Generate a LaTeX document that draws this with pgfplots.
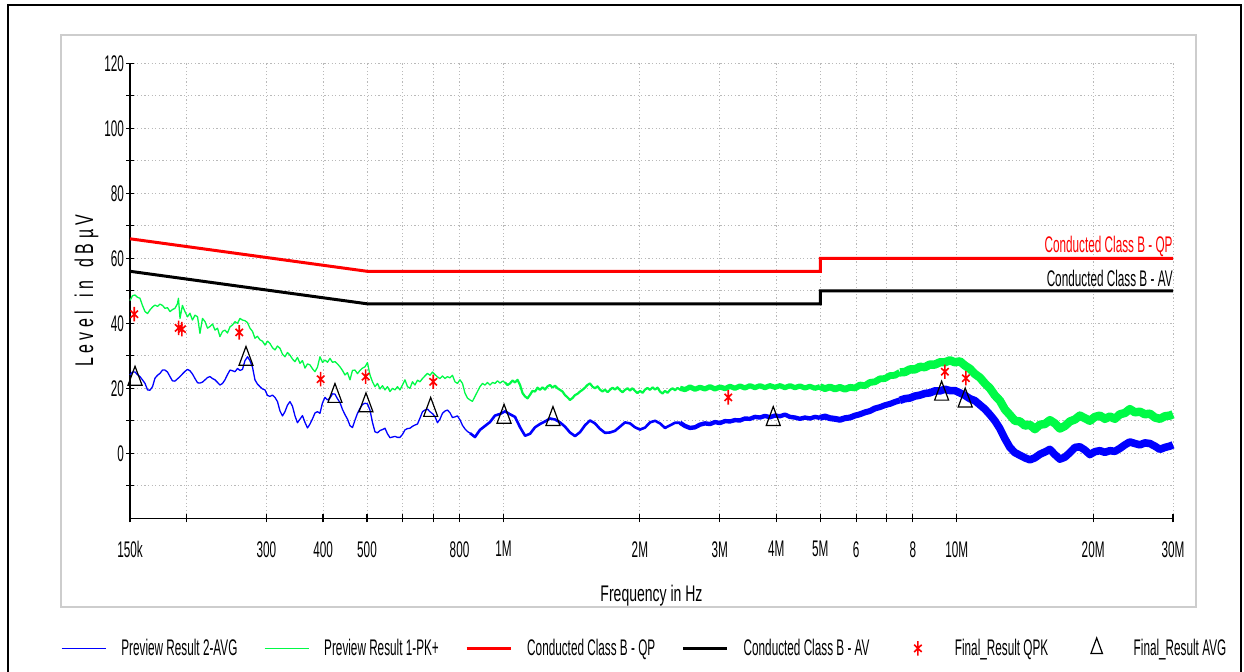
\documentclass[border=0pt]{standalone}
\usepackage{fontspec}
\setmainfont{Liberation Sans}[FakeStretch=0.52]
\newfontfamily\xlabfont{Liberation Sans}[FakeStretch=0.62]
\newfontfamily\ylabfont{Liberation Sans}
\usepackage{graphicx}
\usepackage{pgfplots}
\pgfplotsset{compat=1.18}
\definecolor{avgblue}{RGB}{0,0,255}
\definecolor{pkgreen}{RGB}{0,250,70}
\definecolor{limred}{RGB}{255,0,0}
\definecolor{panelgray}{RGB}{205,205,205}
\definecolor{gridgray}{RGB}{185,185,185}
\pgfplotsset{
  linelegend/.style={legend image code/.code={\draw[##1] (0pt,0pt) -- (22pt,0pt);}},
  bluelegend/.style={legend image code/.code={\draw[draw=avgblue, line width=0.7pt] (0pt,0pt) -- (22pt,0pt);}},
  greenlegend/.style={legend image code/.code={\draw[draw=pkgreen, line width=0.7pt] (0pt,0pt) -- (22pt,0pt);}},
  asterisklegend/.style={legend image code/.code={\path[draw=none,fill=none] (0pt,-1pt) rectangle (22pt,1pt);
     \draw[draw=limred, line width=0.8pt] plot[only marks, mark=asterisk, mark size=3.6pt, mark options={xscale=0.6}] coordinates {(11pt,0pt)};}},
  trianglelegend/.style={legend image code/.code={\path[draw=none,fill=none] (0pt,-1pt) rectangle (22pt,1pt);
     \draw[draw=black, line width=0.6pt, fill=white] plot[only marks, mark=triangle, mark size=5.2pt, mark options={xscale=0.64}] coordinates {(11pt,0pt)};}},
}
\begin{document}
\begin{tikzpicture}
\useasboundingbox (0,0) rectangle (622pt,336pt);
\draw[line width=1.2pt] (4pt,-2pt) -- (4pt,333.5pt) -- (620.5pt,333.5pt) -- (620.5pt,-2pt);
\draw[panelgray, line width=1.2pt] (30.5pt,32.5pt) rectangle (598pt,318.5pt);
\begin{axis}[
  at={(65pt,76.85pt)}, anchor=south west,
  scale only axis, width=521.5pt, height=227.5pt,
  xmode=log, xmin=0.15, xmax=30, ymin=-20, ymax=120,
  axis lines=left, axis line style={-, line width=0.7pt},
  xtick={0.15,0.2,0.3,0.4,0.5,0.6,0.7,0.8,1,2,3,4,5,6,7,8,10,20,30},
  xticklabels={150k,,300,400,500,,,800,1M,2M,3M,4M,5M,6,,8,10M,20M,30M},
  minor x tick num=0,
  ytick={0,20,40,60,80,100,120},
  yticklabels={0,20,40,60,80,100,120},
  minor ytick={-10,10,30,50,70,90,110},
  xmajorgrids, ymajorgrids, yminorgrids,
  major grid style={dash pattern=on 0.6pt off 1.2pt, color=gridgray, line width=0.5pt},
  minor grid style={dash pattern=on 0.6pt off 1.2pt, color=gridgray, line width=0.5pt},
  tick align=center, major tick length=4pt, minor tick length=4pt,
  every tick/.style={black, line width=0.6pt},
  every tick label/.append style={font=\fontsize{11.3}{13}\selectfont},
  xticklabel style={yshift=-6pt},
  yticklabel style={xshift=2.5pt},
  clip=false,
  linelegend,
  legend style={at={(-0.06616,-0.2851)}, anchor=west, draw=none, fill=none,
    inner sep=0pt, outer sep=0pt, legend columns=6,
    font=\fontsize{11.3}{13}\selectfont,
    nodes={inner sep=0pt},
    /tikz/every odd column/.append style={column sep=7.5pt},
    /tikz/every even column/.append style={column sep=13.2pt}},
  legend cell align=left,
]
% ---------- Preview Result 2-AVG (blue) ----------
\addplot[avgblue, line width=0.65pt, line join=round, bluelegend] coordinates {
(0.1500,24.1)(0.1519,25.0)(0.1539,25.0)(0.1558,24.2)(0.1578,23.6)(0.1598,22.6)(0.1619,21.5)(0.1640,19.5)(0.1660,19.4)(0.1682,20.5)
(0.1703,23.1)(0.1725,24.0)(0.1747,24.6)(0.1769,25.6)(0.1792,25.6)(0.1815,25.0)(0.1838,23.6)(0.1861,22.3)(0.1885,22.2)(0.1909,22.9)
(0.1934,23.6)(0.1958,24.4)(0.1983,25.2)(0.2009,25.8)(0.2034,25.4)(0.2060,24.4)(0.2087,23.0)(0.2114,21.7)(0.2140,21.6)(0.2168,21.9)
(0.2196,22.6)(0.2224,23.3)(0.2252,23.6)(0.2281,23.0)(0.2310,22.6)(0.2340,21.8)(0.2369,21.0)(0.2400,21.5)(0.2430,22.6)(0.2461,24.2)
(0.2493,25.6)(0.2525,25.4)(0.2557,25.1)(0.2590,26.1)(0.2623,25.5)(0.2656,25.8)(0.2690,28.5)(0.2725,29.7)(0.2759,28.5)(0.2795,26.5)
(0.2830,22.6)(0.2866,21.3)(0.2903,20.5)(0.2940,19.8)(0.2978,19.5)(0.3016,17.8)(0.3054,17.5)(0.3093,17.9)(0.3133,17.2)(0.3173,15.9)
(0.3214,13.0)(0.3255,11.5)(0.3296,12.8)(0.3338,14.8)(0.3381,15.9)(0.3424,14.5)(0.3468,11.5)(0.3512,9.4)(0.3557,10.5)(0.3603,11.6)
(0.3649,9.5)(0.3696,7.8)(0.3743,9.0)(0.3791,10.6)(0.3839,12.4)(0.3888,12.8)(0.3938,12.3)(0.3988,15.5)(0.4039,17.2)(0.4091,16.4)
(0.4143,17.0)(0.4196,18.3)(0.4249,18.2)(0.4303,16.8)(0.4359,15.6)(0.4414,13.5)(0.4471,11.9)(0.4528,10.5)(0.4586,8.5)(0.4644,7.9)
(0.4704,10.2)(0.4764,12.3)(0.4825,13.8)(0.4886,15.0)(0.4949,15.4)(0.5012,15.2)(0.5076,13.3)(0.5141,9.5)(0.5207,6.6)(0.5273,6.3)
(0.5341,7.0)(0.5409,7.3)(0.5478,7.7)(0.5548,6.0)(0.5619,4.8)(0.5691,5.0)(0.5763,5.2)(0.5837,4.9)(0.5912,4.9)(0.5987,5.8)
(0.6064,7.2)(0.6141,7.6)(0.6220,7.7)(0.6299,8.3)(0.6380,8.7)(0.6461,9.0)(0.6544,10.8)(0.6628,12.8)(0.6712,13.3)(0.6798,13.6)
(0.6885,12.8)(0.6973,12.2)(0.7062,11.3)(0.7152,9.4)(0.7244,10.5)(0.7336,12.3)(0.7430,13.0)(0.7525,13.3)(0.7621,12.5)(0.7718,11.0)
(0.7817,11.2)(0.7917,11.5)(0.8018,10.3)(0.8121,8.6)(0.8225,7.5)(0.8330,6.7)(0.8436,6.2)
};
\addlegendentry{Preview Result 2-AVG}
\addplot[avgblue, line width=1.3pt, line join=round, forget plot] coordinates {
(0.8436,6.2)(0.8653,5.0)(0.8876,7.2)(0.9104,8.4)(0.9338,9.6)(0.9578,11.6)(0.9827,12.1)(1.008,12.9)(1.034,12.0)(1.0605,11.2)
(1.088,8.0)(1.116,5.4)(1.1445,6.0)(1.174,8.0)(1.204,9.0)(1.235,9.8)(1.267,10.7)(1.2995,10.4)(1.333,9.5)(1.367,8.2)
(1.402,6.4)(1.4385,5.3)(1.4755,6.5)(1.513,8.6)(1.552,10.1)(1.592,9.2)(1.633,7.5)(1.675,6.3)(1.718,6.4)(1.7625,6.9)
(1.808,8.2)(1.854,9.5)(1.902,9.2)(1.951,8.0)(2.001,7.3)(2.053,7.9)(2.105,9.5)(2.160,10.0)(2.215,9.2)(2.272,7.8)
(2.331,8.6)(2.391,9.4)(2.452,9.4)
};
\addplot[avgblue, line width=2.2pt, line join=round, forget plot] coordinates {
(2.452,9.4)(2.515,8.4)(2.580,7.8)(2.646,8.0)(2.713,8.8)(2.783,9.2)(2.855,9.0)(2.928,9.6)(3.004,9.3)(3.081,9.9)
(3.160,9.8)(3.241,10.2)(3.325,10.1)(3.410,10.7)(3.498,10.6)(3.588,11.2)(3.680,11.0)(3.775,11.5)(3.872,11.1)(3.972,11.6)
(4.074,11.4)(4.179,11.9)(4.286,11.2)(4.396,11.0)(4.509,10.6)(4.625,11.0)(4.744,10.7)(4.866,11.2)(4.992,10.9)
};
\addplot[avgblue, line width=3.0pt, line join=round, forget plot] coordinates {
(4.992,10.9)(5.120,11.3)(5.252,10.8)(5.387,10.6)(5.525,10.3)(5.668,10.8)(5.813,11.0)(5.963,11.6)(6.116,12.0)(6.274,12.6)(6.435,13.0)(6.601,13.8)
(6.770,14.2)(6.945,14.8)(7.123,15.2)(7.306,15.8)(7.494,16.3)
};
\addplot[avgblue, line width=3.8pt, line join=round, forget plot] coordinates {
(7.494,16.3)(7.685,16.8)(7.883,17.0)(8.086,17.6)(8.294,17.9)(8.507,18.4)
(8.726,18.6)(8.950,19.2)(9.181,19.2)(9.417,19.7)(9.659,19.3)(9.908,19.3)(10.162,18.6)
(10.424,17.8)(10.692,16.8)(10.967,16.2)(11.249,14.9)(11.538,13.6)(11.835,11.9)(12.140,10.0)(12.452,7.6)(12.772,4.5)
(13.101,1.8)(13.438,0.2)(13.783,-0.6)(14.138,-1.4)(14.502,-2.0)(14.875,-1.4)(15.257,-0.3)(15.650,0.4)(16.052,1.2)(16.465,-0.4)
(16.889,-1.8)(17.323,-1.2)(17.769,0.2)(18.226,1.8)(18.695,2.0)(19.176,1.0)(19.669,-0.4)(20.175,0.5)(20.694,0.8)(21.226,0.3)
(21.772,0.8)(22.332,0.6)(22.907,1.5)(23.496,2.6)(24.100,3.5)(24.720,3.0)(25.356,2.6)(26.009,3.2)(26.678,3.0)(27.364,2.2)
(28.068,1.2)(28.790,1.8)(29.531,2.2)(30.0,2.6)
};
% ---------- Preview Result 1-PK+ (green) ----------
\addplot[pkgreen, line width=0.65pt, line join=round, greenlegend] coordinates {
(0.1500,47.0)(0.1519,48.5)(0.1539,48.7)(0.1558,48.0)(0.1578,47.7)(0.1598,45.5)(0.1619,43.6)(0.1640,43.0)(0.1660,44.1)(0.1682,45.0)
(0.1703,45.6)(0.1725,45.2)(0.1747,45.9)(0.1769,45.5)(0.1792,44.6)(0.1815,44.8)(0.1838,43.6)(0.1861,44.2)(0.1885,44.6)(0.1909,46.0)
(0.1919,47.7)(0.1934,41.5)(0.1958,45.5)(0.1983,43.6)(0.2009,42.0)(0.2034,43.1)(0.2060,41.0)(0.2087,42.5)(0.2114,42.0)(0.2140,36.9)
(0.2168,41.5)(0.2196,40.5)(0.2224,38.5)(0.2252,39.0)(0.2281,39.8)(0.2310,37.9)(0.2340,38.5)(0.2369,35.9)(0.2400,37.5)(0.2430,37.9)
(0.2461,37.0)(0.2493,38.9)(0.2525,39.5)(0.2557,40.5)(0.2590,40.0)(0.2623,41.5)(0.2656,41.0)(0.2690,40.8)(0.2725,40.2)(0.2759,38.5)
(0.2795,37.5)(0.2830,35.4)(0.2866,36.0)(0.2903,34.9)(0.2940,34.5)(0.2978,33.3)(0.3016,34.5)(0.3054,33.8)(0.3093,32.5)(0.3133,31.8)
(0.3173,33.0)(0.3214,32.3)(0.3255,30.5)(0.3296,29.7)(0.3338,31.0)(0.3381,30.2)(0.3424,29.0)(0.3468,28.2)(0.3512,29.5)(0.3557,27.7)
(0.3603,28.5)(0.3649,26.2)(0.3696,27.5)(0.3743,27.2)(0.3791,26.0)(0.3839,25.1)(0.3888,26.5)(0.3938,29.7)(0.3988,28.0)(0.4039,28.7)
(0.4091,28.0)(0.4143,29.2)(0.4196,28.0)(0.4249,28.2)(0.4303,27.5)(0.4359,26.6)(0.4414,25.5)(0.4471,24.1)(0.4528,24.8)(0.4586,22.6)
(0.4644,25.5)(0.4704,25.6)(0.4764,24.5)(0.4825,25.5)(0.4886,26.2)(0.4949,26.6)(0.5012,27.9)(0.5076,24.1)(0.5141,22.0)(0.5207,20.5)
(0.5273,21.5)(0.5341,19.8)(0.5409,20.8)(0.5478,19.5)(0.5548,20.5)(0.5619,19.0)(0.5691,20.0)(0.5763,19.5)(0.5837,20.5)(0.5912,19.5)
(0.5987,21.0)(0.6064,22.6)(0.6141,20.5)(0.6220,20.0)(0.6299,22.0)(0.6380,21.0)(0.6461,22.5)(0.6544,22.0)(0.6628,23.0)(0.6712,23.8)
(0.6798,24.6)(0.6885,24.0)(0.6973,25.0)(0.7062,24.2)(0.7152,23.5)(0.7244,23.0)(0.7336,23.8)(0.7430,23.0)(0.7525,23.6)(0.7621,23.2)
(0.7718,24.0)(0.7817,22.0)(0.7917,21.5)(0.8018,22.6)(0.8121,21.5)(0.8225,18.5)(0.8330,17.0)(0.8436,16.4)(0.8544,16.0)(0.8653,17.5)
(0.8764,19.0)(0.8876,20.5)(0.8989,21.5)(0.9104,21.0)(0.9220,21.8)(0.9338,21.0)(0.9458,21.8)(0.9578,21.5)(0.9701,22.3)(0.9827,21.6)
(0.9953,22.2)(1.0080,21.8)
};
\addlegendentry{Preview Result 1-PK+}
\addplot[pkgreen, line width=1.1pt, line join=round, forget plot] coordinates {
(1.008,21.8)(1.021,21.0)(1.034,21.5)(1.047,22.4)(1.0605,21.8)(1.074,22.6)(1.088,21.0)(1.102,18.5)(1.116,17.5)(1.130,16.9)
(1.1445,18.0)(1.159,19.2)(1.174,19.0)(1.189,20.2)(1.204,19.5)(1.219,20.3)(1.235,19.6)(1.251,20.6)(1.267,21.0)(1.283,20.2)
(1.2995,20.8)(1.316,20.0)(1.333,19.5)(1.350,19.0)(1.367,17.9)(1.385,17.2)(1.402,16.4)(1.420,17.0)(1.4385,17.9)(1.457,18.3)
(1.4755,19.0)(1.494,19.5)(1.513,20.2)(1.532,21.0)(1.552,21.5)(1.572,20.5)(1.592,20.0)(1.613,20.6)(1.633,19.6)(1.654,19.0)
(1.675,19.6)(1.697,18.8)(1.718,19.5)(1.740,20.2)(1.7625,19.6)(1.785,20.3)(1.808,19.4)(1.831,18.8)(1.854,19.5)(1.878,20.0)
(1.902,19.3)(1.926,20.0)(1.951,19.2)(1.976,18.5)(2.001,19.2)(2.027,18.6)(2.053,19.6)(2.079,20.1)(2.105,19.5)(2.132,20.3)
(2.160,19.6)(2.187,20.2)(2.215,19.0)(2.243,18.4)(2.272,19.2)(2.301,18.6)(2.331,19.5)(2.361,20.0)(2.391,19.4)(2.421,20.1)
(2.452,19.6)
};
\addplot[pkgreen, line width=2.6pt, line join=round, forget plot] coordinates {
(2.452,20.0)(2.515,19.6)(2.580,20.4)(2.646,19.7)(2.713,20.3)(2.783,19.8)(2.855,20.5)(2.928,19.8)(3.004,20.4)(3.081,19.9)
(3.160,20.6)(3.241,20.0)(3.325,20.7)(3.410,20.1)(3.498,20.8)(3.588,20.2)(3.680,20.8)(3.775,20.2)(3.872,20.8)(3.972,20.3)
(4.074,20.8)(4.179,20.2)(4.286,20.8)(4.396,20.2)(4.509,20.7)(4.625,20.1)(4.744,20.6)(4.866,20.0)(4.992,20.5)
};
\addplot[pkgreen, line width=3.4pt, line join=round, forget plot] coordinates {
(4.992,20.5)(5.120,19.9)(5.252,20.4)(5.387,19.8)(5.525,20.3)(5.668,19.7)(5.813,20.3)(5.963,20.1)(6.116,21.0)(6.274,20.8)(6.435,21.8)(6.601,22.0)
(6.770,22.9)(6.945,23.0)(7.123,23.9)(7.306,24.0)(7.494,24.9)
};
\addplot[pkgreen, line width=4.2pt, line join=round, forget plot] coordinates {
(7.494,24.9)(7.685,25.0)(7.883,25.8)(8.086,25.8)(8.294,26.6)(8.507,26.5)
(8.726,27.3)(8.950,27.3)(9.181,28.0)(9.417,28.0)(9.659,28.6)(9.908,28.0)(10.162,28.3)
(10.424,27.0)(10.692,26.0)(10.967,24.4)(11.249,23.3)(11.538,21.5)(11.835,20.0)(12.140,17.8)(12.452,16.2)(12.772,13.5)
(13.101,11.8)(13.438,10.0)(13.783,9.8)(14.138,8.5)(14.502,8.8)(14.875,7.4)(15.257,8.8)(15.650,9.0)(16.052,10.2)(16.465,9.2)
(16.889,7.6)(17.323,8.4)(17.769,9.8)(18.226,10.4)(18.695,11.6)(19.176,10.8)(19.669,10.0)(20.175,11.2)(20.694,11.6)(21.226,10.6)
(21.772,11.3)(22.332,10.6)(22.907,12.0)(23.496,12.4)(24.100,13.6)(24.720,12.6)(25.356,12.8)(26.009,12.0)(26.678,12.2)(27.364,11.0)
(28.068,10.6)(28.790,11.4)(29.531,11.6)(30.0,12.0)
};
% ---------- limit lines ----------
\addplot[limred, line width=1.5pt] coordinates {(0.15,66)(0.5,56)(5,56)(5,60)(30,60)};
\addlegendentry{Conducted Class B - QP}
\addplot[black, line width=1.5pt] coordinates {(0.15,56)(0.5,46)(5,46)(5,50)(30,50)};
\addlegendentry{Conducted Class B - AV}
% ---------- final results ----------
\addplot[only marks, mark=asterisk, mark size=3.6pt, limred,
  mark options={xscale=0.6, line width=0.8pt}, asterisklegend]
coordinates {(0.1533,42.8)(0.1921,38.6)(0.1953,38.2)(0.2613,37.2)(0.3952,22.8)(0.4966,23.6)(0.7001,22.0)(3.133,17.2)(9.417,25.1)(10.477,23.1)};
\addlegendentry{Final\_Result QPK}
\addplot[only marks, mark=triangle, mark size=6.3pt, black,
  mark options={xscale=0.64, line width=0.6pt, fill=white}, trianglelegend]
coordinates {(0.1539,22.9)(0.2704,29.0)(0.4249,17.6)(0.4974,14.7)(0.691,13.3)(1.003,11.2)(1.286,10.5)(3.938,10.5)(9.261,18.3)(10.44,16.2)};
\addlegendentry{Final\_Result AVG}
% ---------- limit labels ----------
\node[anchor=base east, text=limred, inner sep=0pt, yshift=2.75pt, font=\fontsize{11.3}{13}\selectfont] at (axis cs:30,60) {Conducted Class B - QP};
\node[anchor=base east, text=black, inner sep=0pt, yshift=2.25pt, font=\fontsize{11.3}{13}\selectfont] at (axis cs:30,50) {Conducted Class B - AV};
\end{axis}
\node[anchor=base, inner sep=0pt] at (325.75pt,35pt) {\xlabfont\fontsize{11.3}{13}\selectfont Frequency in Hz};
\node[rotate=90, inner sep=0pt] at (43.25pt,190.6pt) {\scalebox{1}[1.6]{\ylabfont\fontsize{8}{10}\selectfont L e v e l\ \ \ i n\ \ \ d B µ V}};
\end{tikzpicture}
\end{document}
